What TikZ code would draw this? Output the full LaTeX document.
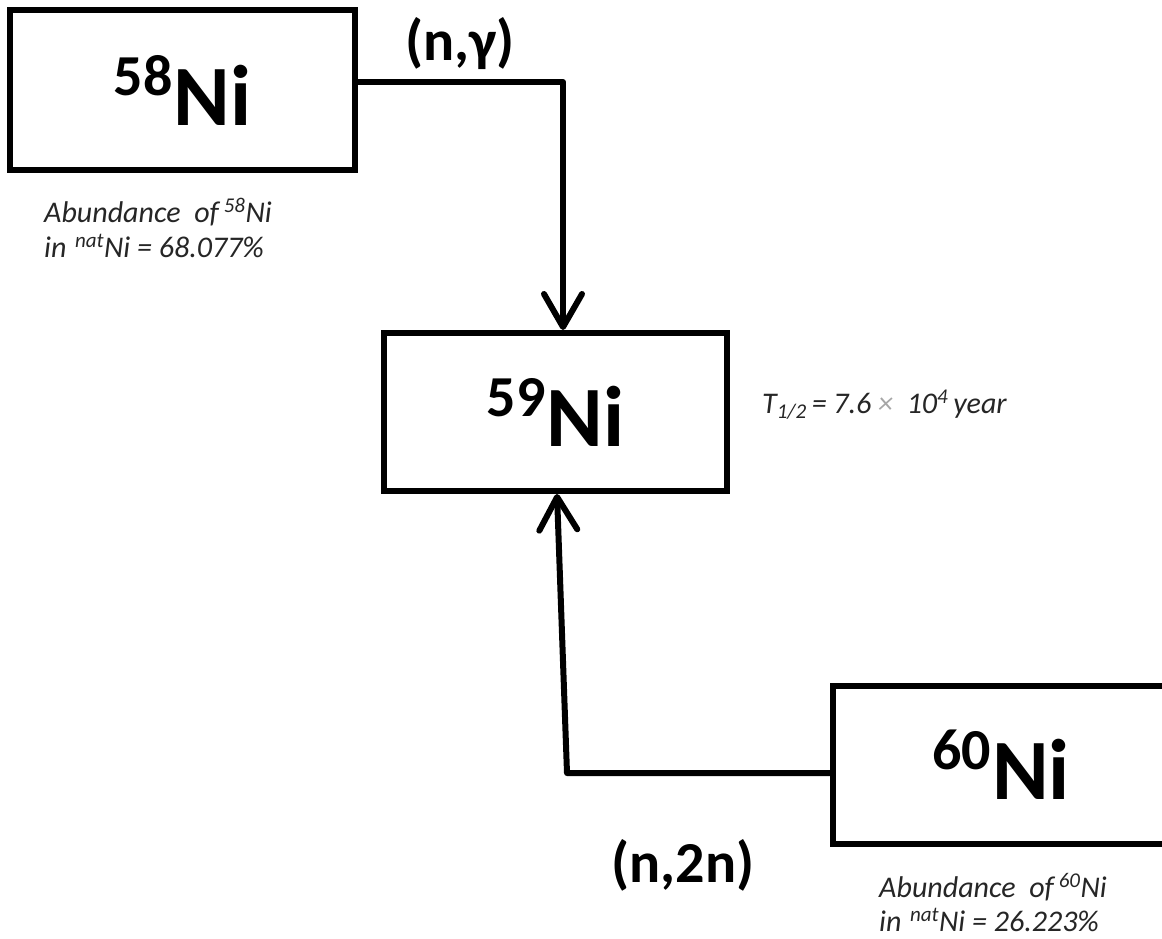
\documentclass[tikz,border=0pt]{standalone}
\usepackage{fontspec}
\setmainfont{Carlito}
\usetikzlibrary{arrows.meta,calc}
\newcommand{\isotope}[1]{\raisebox{30pt}{\fontsize{58}{58}\selectfont\bfseries #1}\kern1pt\fontsize{86}{86}\selectfont\bfseries Ni}
\tikzset{
  isobox/.style={draw=black, line width=6pt, rectangle, inner sep=0pt, align=center},
  conn/.style={line width=6pt, line join=round, -{Straight Barb[length=33pt,width=38pt,round]}},
  reaction/.style={font=\fontsize{58}{58}\selectfont\bfseries, inner sep=0pt},
  note/.style={font=\fontsize{30}{30}\selectfont\itshape, text=black!85, inner sep=0pt, anchor=base west},
}
\begin{document}
\begin{tikzpicture}[x=1pt,y=-1pt]
\useasboundingbox (0,0) rectangle (1162,938);
\fill[white] (0,0) rectangle (1162,938);
\clip (0,0) rectangle (1162,938);
% boxes
\node[isobox, minimum width=345pt, minimum height=160pt] (n58) at (182.5,90) {\isotope{58}};
\node[isobox, minimum width=343pt, minimum height=158pt] (n59) at (555.5,412) {\isotope{59}};
\node[isobox, minimum width=336pt, minimum height=158pt] (n60) at (1001,765) {\isotope{60}};
% corner of lower connector
\coordinate (c2) at (567,773);
% connectors
\draw[conn] ([yshift=8pt]n58.east) -| ([xshift=7.5pt]n59.north);
\draw[conn] ([yshift=-8pt]n60.west) -- (c2) -- ([xshift=1.5pt]n59.south);
% reaction labels
\node[reaction] (rng) at (460,44) {(n,γ)};
\node[reaction] (rn2n) at (683,865) {(n,2n)};
% notes
\node[note] (a58a) at (44,222) {Abundance\ \ of\,\textsuperscript{58}Ni};
\node[note] (a58b) at (44,257) {in\,\textsuperscript{\,nat}Ni = 68.077\%};
\node[note] (a60a) at (879,897) {Abundance\ \ of\,\textsuperscript{60}Ni};
\node[note] (a60b) at (879,931) {in\,\textsuperscript{\,nat}Ni = 26.223\%};
\node[note] (thalf) at (762,413) {T\textsubscript{1/2}\,= 7.6 \textcolor{black!35}{×}\ \ 10\textsuperscript{4}\,year};
\end{tikzpicture}
\end{document}
